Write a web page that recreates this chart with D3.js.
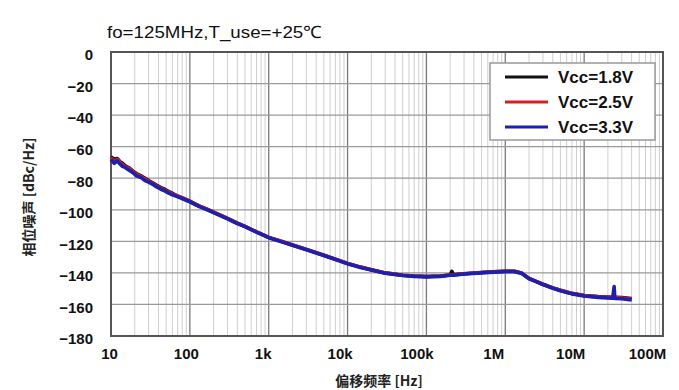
<!DOCTYPE html>
<html>
<head>
<meta charset="utf-8">
<script src="https://cdn.jsdelivr.net/npm/d3@7"></script>
<style>
  body { margin: 0; background: #fff; }
  svg { display: block; font-family: "Liberation Sans", Arial, sans-serif; }
</style>
</head>
<body>
<svg id="chart" width="679" height="390"></svg>
<script>
// data
var title = "fo=125MHz,T_use=+25\u2103";
var xTicks = [10, 100, 1e3, 1e4, 1e5, 1e6, 1e7, 1e8];
var xTickLabels = ["10", "100", "1k", "10k", "100k", "1M", "10M", "100M"];
var yTicks = [0, -20, -40, -60, -80, -100, -120, -140, -160, -180];
var seriesNames = ["Vcc=1.8V", "Vcc=2.5V", "Vcc=3.3V"];
var seriesColors = ["#111111", "#d42020", "#1f1fae"];

// offset frequency [Hz]
var freq = [10, 11, 12, 13, 14, 15, 17, 19, 21, 24, 27, 30, 34, 38, 43, 48, 54, 60, 68, 76, 85,
    100, 130, 170, 220, 300, 400, 500, 700, 1e3, 1.5e3, 2e3, 3e3, 5e3, 7e3,
    1e4, 1.5e4, 2e4, 3e4, 5e4, 7e4, 1e5, 1.5e5, 2e5, 2.1e5, 2.2e5, 3e5, 5e5, 7e5,
    1e6, 1.3e6, 1.6e6, 2e6, 2.5e6, 3e6, 4e6, 5e6, 7e6, 1e7, 1.5e7, 2e7, 2.3e7, 2.4e7, 2.45e7, 3e7, 4e7];

// phase noise [dBc/Hz]
var vcc18 = [-66.5, -68, -67.5, -69.5, -70.5, -72, -73.5, -75.5, -77, -78.5, -80, -81.5, -83, -84.5, -86, -87, -88.5, -89.5, -91, -92, -93,
    -94.5, -97.5, -100, -102.5, -105.5, -108.5, -110.5, -114, -117.5, -120.3, -122.3, -125.1, -128.8, -131.3,
    -134, -136.5, -138, -140, -141.5, -142, -142.3, -142, -141.3, -139, -141.2, -140.5, -139.8, -139.3,
    -139, -139, -140, -143.5, -145.5, -147.2, -149.5, -151, -153, -154.3, -155, -155.3, -155.5, -155.5, -155.5, -155.7, -156.2];
var vcc25 = [-67, -69.5, -68, -70, -71.5, -72.5, -74, -76, -77.5, -79, -80.5, -82, -83.5, -85, -86.5, -87.5, -89, -90, -91, -92, -93,
    -94.8, -97.5, -100, -102.5, -105.5, -108.5, -110.5, -114, -117.5, -120.3, -122.3, -125.1, -128.8, -131.3,
    -134, -136.5, -138, -140, -141.5, -142, -142.3, -142, -141.3, -141.2, -141.2, -140.5, -139.8, -139.3,
    -139, -139, -140, -143.5, -145.5, -147.2, -149.5, -151, -153, -154.4, -155.2, -155.5, -155.7, -155.7, -155.7, -156, -156.5];
var vcc33 = [-68, -70.5, -69, -71, -72.5, -73, -75, -76.5, -78.5, -79.5, -81.5, -82.5, -84, -85.5, -87, -88, -89.5, -90.5, -91.5, -92.5, -93.5,
    -95, -97.8, -100.2, -102.7, -105.7, -108.7, -110.7, -114.2, -117.7, -120.5, -122.5, -125.3, -129, -131.5,
    -134.2, -136.7, -138.2, -140.2, -141.7, -142.2, -142.5, -142.2, -141.5, -141.4, -141.4, -140.7, -140, -139.5,
    -139.2, -139.2, -140.2, -143.7, -145.7, -147.4, -149.7, -151.3, -153.3, -154.7, -155.5, -155.9, -156.1, -148.7, -156.2, -156.4, -157.1];
var seriesValues = [vcc18, vcc25, vcc33];

// layout
var svg = d3.select("#chart");
var plotL = 111, plotR = 663, plotT = 52, plotB = 336;

var x = d3.scaleLog().domain([10, 1e8]).range([plotL, plotR]);
var y = d3.scaleLinear().domain([0, -180]).range([plotT, plotB]);

// minor vertical grid
var minor = [];
for (var d = 10; d < 1e8; d *= 10) {
    for (var k = 2; k <= 9; k++) minor.push(d * k);
}
svg.append("g").selectAll("line").data(minor).join("line")
    .attr("x1", d => x(d)).attr("x2", d => x(d))
    .attr("y1", plotT).attr("y2", plotB)
    .attr("stroke", "#cfcfcf").attr("stroke-width", 1);

// major vertical grid
svg.append("g").selectAll("line").data(xTicks).join("line")
    .attr("x1", d => x(d)).attr("x2", d => x(d))
    .attr("y1", plotT).attr("y2", plotB)
    .attr("stroke", "#7a7a7a").attr("stroke-width", 1.3);

// horizontal grid
svg.append("g").selectAll("line").data(yTicks).join("line")
    .attr("x1", plotL).attr("x2", plotR)
    .attr("y1", d => y(d)).attr("y2", d => y(d))
    .attr("stroke", "#9a9a9a").attr("stroke-width", 1.3);

// plot frame
svg.append("rect")
    .attr("x", plotL).attr("y", plotT)
    .attr("width", plotR - plotL).attr("height", plotB - plotT)
    .attr("fill", "none").attr("stroke", "#555").attr("stroke-width", 2);

// axes labels via d3 axes
var yAxis = d3.axisLeft(y).tickValues(yTicks).tickSize(0).tickPadding(18)
    .tickFormat(d => d === 0 ? "0" : "\u2212" + Math.abs(d));
svg.append("g").attr("transform", "translate(" + plotL + ",3)").call(yAxis)
    .call(g => g.select(".domain").remove())
    .selectAll("text")
    .attr("font-size", 15).attr("font-weight", "bold").attr("fill", "#111")
    .attr("font-family", "Liberation Sans, Arial, sans-serif");

var xAxis = d3.axisBottom(x).tickValues(xTicks).tickSize(0).tickPadding(12)
    .tickFormat((d, i) => xTickLabels[i]);
svg.append("g").attr("transform", "translate(0," + plotB + ")").call(xAxis)
    .call(g => g.select(".domain").remove())
    .selectAll("text")
    .attr("dx", (d, i) => -(2 + i * 2))
    .attr("font-size", 15).attr("font-weight", "bold").attr("fill", "#111")
    .attr("font-family", "Liberation Sans, Arial, sans-serif");

// title
svg.append("text")
    .attr("x", 107).attr("y", 38)
    .attr("font-size", 17).attr("fill", "#111")
    .attr("textLength", 215).attr("lengthAdjust", "spacingAndGlyphs")
    .text(title);

// axis titles
svg.append("text")
    .attr("x", 379).attr("y", 386)
    .attr("text-anchor", "middle")
    .attr("font-size", 14).attr("font-weight", "bold").attr("fill", "#222")
    .attr("font-family", "Noto Sans CJK SC, sans-serif")
    .text("偏移频率 [Hz]");

svg.append("text")
    .attr("transform", "translate(34,197) rotate(-90)")
    .attr("text-anchor", "middle")
    .attr("font-size", 14).attr("font-weight", "bold").attr("fill", "#222")
    .attr("font-family", "Noto Sans CJK SC, sans-serif")
    .text("相位噪声 [dBc/Hz]");

// curves
var line = d3.line()
    .x(d => x(d[0]))
    .y(d => y(d[1]));

seriesValues.forEach(function(vals, i) {
    var pts = freq.map((f, j) => [f, vals[j]]);
    svg.append("path")
        .datum(pts)
        .attr("d", line)
        .attr("fill", "none")
        .attr("stroke", seriesColors[i])
        .attr("stroke-width", 3.6)
        .attr("stroke-linejoin", "round");
});

// legend
var lg = svg.append("g");
lg.append("rect")
    .attr("x", 490).attr("y", 63).attr("width", 165).attr("height", 77)
    .attr("fill", "#fff").attr("stroke", "#999").attr("stroke-width", 1.5);
seriesNames.forEach(function(name, i) {
    var ly = 77 + i * 25;
    lg.append("line")
        .attr("x1", 505).attr("x2", 548).attr("y1", ly).attr("y2", ly)
        .attr("stroke", seriesColors[i]).attr("stroke-width", 3);
    lg.append("text")
        .attr("x", 558).attr("y", ly + 6)
        .attr("font-size", 17).attr("font-weight", "bold").attr("fill", "#111")
        .text(name);
});
</script>
</body>
</html>
